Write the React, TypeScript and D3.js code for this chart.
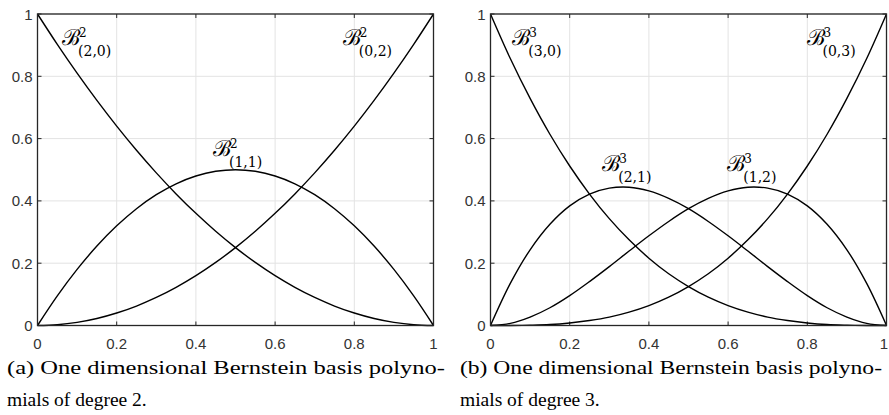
import React from 'react'
import * as d3 from 'd3'

// sample positions along [0, 1]
const ts = [0, 0.05, 0.1, 0.15, 0.2, 0.25, 0.3, 0.35, 0.4, 0.45, 0.5, 0.55, 0.6, 0.65, 0.7, 0.75, 0.8, 0.85, 0.9, 0.95, 1]

// degree 2
const b20 = [1, 0.9025, 0.81, 0.7225, 0.64, 0.5625, 0.49, 0.4225, 0.36, 0.3025, 0.25, 0.2025, 0.16, 0.1225, 0.09, 0.0625, 0.04, 0.0225, 0.01, 0.0025, 0]
const b11 = [0, 0.095, 0.18, 0.255, 0.32, 0.375, 0.42, 0.455, 0.48, 0.495, 0.5, 0.495, 0.48, 0.455, 0.42, 0.375, 0.32, 0.255, 0.18, 0.095, 0]
const b02 = [0, 0.0025, 0.01, 0.0225, 0.04, 0.0625, 0.09, 0.1225, 0.16, 0.2025, 0.25, 0.3025, 0.36, 0.4225, 0.49, 0.5625, 0.64, 0.7225, 0.81, 0.9025, 1]

// degree 3
const b30 = [1, 0.857, 0.729, 0.614, 0.512, 0.422, 0.343, 0.275, 0.216, 0.166, 0.125, 0.091, 0.064, 0.043, 0.027, 0.016, 0.008, 0.003, 0.001, 0.0001, 0]
const b21 = [0, 0.135, 0.243, 0.325, 0.384, 0.422, 0.441, 0.444, 0.432, 0.408, 0.375, 0.334, 0.288, 0.239, 0.189, 0.141, 0.096, 0.057, 0.027, 0.007, 0]
const b12 = [0, 0.007, 0.027, 0.057, 0.096, 0.141, 0.189, 0.239, 0.288, 0.334, 0.375, 0.408, 0.432, 0.444, 0.441, 0.422, 0.384, 0.325, 0.243, 0.135, 0]
const b03 = [0, 0.0001, 0.001, 0.003, 0.008, 0.016, 0.027, 0.043, 0.064, 0.091, 0.125, 0.166, 0.216, 0.275, 0.343, 0.422, 0.512, 0.614, 0.729, 0.857, 1]

const tickValues = [0, 0.2, 0.4, 0.6, 0.8, 1]
const tickLabels = ['0', '0.2', '0.4', '0.6', '0.8', '1']

const panels = [
  {
    left: 37.5, right: 433.5,
    series: [b20, b11, b02],
    labels: [
      {x: 0.062, y: 0.90, sup: '2', sub: '(2,0)'},
      {x: 0.771, y: 0.90, sup: '2', sub: '(0,2)'},
      {x: 0.443, y: 0.545, sup: '2', sub: '(1,1)'},
    ],
    caption: ['(a) One dimensional Bernstein basis polyno-', 'mials of degree 2.'],
    capX: 7, capW: 438,
  },
  {
    left: 490.5, right: 886.5,
    series: [b30, b21, b12, b03],
    labels: [
      {x: 0.055, y: 0.90, sup: '3', sub: '(3,0)'},
      {x: 0.798, y: 0.90, sup: '3', sub: '(0,3)'},
      {x: 0.282, y: 0.496, sup: '3', sub: '(2,1)'},
      {x: 0.598, y: 0.496, sup: '3', sub: '(1,2)'},
    ],
    caption: ['(b) One dimensional Bernstein basis polyno-', 'mials of degree 3.'],
    capX: 460, capW: 422,
  },
]

const TOP = 14
const BOTTOM = 325.5
const tickFont = 'Liberation Sans, Arial, sans-serif'

const Panel = ({p}: {p: typeof panels[0]}) => {
  const x = d3.scaleLinear().domain([0, 1]).range([p.left, p.right])
  const y = d3.scaleLinear().domain([0, 1]).range([BOTTOM, TOP])
  const line = d3.line<number>()
    .x((_, i) => x(ts[i]))
    .y(d => y(d))
    .curve(d3.curveCatmullRom)

  return (
    <g>
      {/* grid */}
      {tickValues.map(v => (
        <g key={'g' + v}>
          <line x1={x(v)} x2={x(v)} y1={TOP} y2={BOTTOM} stroke="#e3e3e3" strokeWidth={1} />
          <line x1={p.left} x2={p.right} y1={y(v)} y2={y(v)} stroke="#e3e3e3" strokeWidth={1} />
        </g>
      ))}
      {/* ticks inward */}
      {tickValues.map(v => (
        <g key={'t' + v} stroke="#262626" strokeWidth={1}>
          <line x1={x(v)} x2={x(v)} y1={BOTTOM} y2={BOTTOM - 4} />
          <line x1={x(v)} x2={x(v)} y1={TOP} y2={TOP + 4} />
          <line x1={p.left} x2={p.left + 4} y1={y(v)} y2={y(v)} />
          <line x1={p.right} x2={p.right - 4} y1={y(v)} y2={y(v)} />
        </g>
      ))}
      {/* curves */}
      {p.series.map((s, i) => (
        <path key={i} d={line(s) || ''} fill="none" stroke="#000" strokeWidth={1.4} />
      ))}
      <rect x={p.left} y={TOP} width={p.right - p.left} height={BOTTOM - TOP} fill="none" stroke="#262626" strokeWidth={1.3} />
      {/* tick labels */}
      {tickValues.map((v, i) => (
        <text key={'xl' + v} x={Math.min(x(v), 884)} y={BOTTOM + 23} textAnchor="middle" fontFamily={tickFont} fontSize={15} fill="#333">{tickLabels[i]}</text>
      ))}
      {tickValues.map((v, i) => (
        <text key={'yl' + v} x={p.left - 5} y={y(v) + 5.5} textAnchor="end" fontFamily={tickFont} fontSize={15} fill="#333">{tickLabels[i]}</text>
      ))}
      {/* curve labels */}
      {p.labels.map((l, i) => (
        <g key={'l' + i} fontFamily="DejaVu Serif" fill="#000">
          <text x={x(l.x)} y={y(l.y)} fontSize={22}>ℬ</text>
          <text x={x(l.x) + 17} y={y(l.y) - 8} fontSize={12}>{l.sup}</text>
          <text x={x(l.x) + 16} y={y(l.y) + 11} fontSize={14}>{l.sub}</text>
        </g>
      ))}
      {/* caption */}
      <text x={p.capX} y={374} fontFamily="Liberation Serif, serif" fontSize={19.5} fill="#000" textLength={p.capW} lengthAdjust="spacingAndGlyphs">{p.caption[0]}</text>
      <text x={p.capX} y={406} fontFamily="Liberation Serif, serif" fontSize={19.5} fill="#000">{p.caption[1]}</text>
    </g>
  )
}

export default function App() {
  return (
    <svg width={889} height={415} style={{position: 'absolute', left: 0, top: 0, background: '#fff'}}>
      {panels.map((p, i) => <Panel key={i} p={p} />)}
    </svg>
  )
}
